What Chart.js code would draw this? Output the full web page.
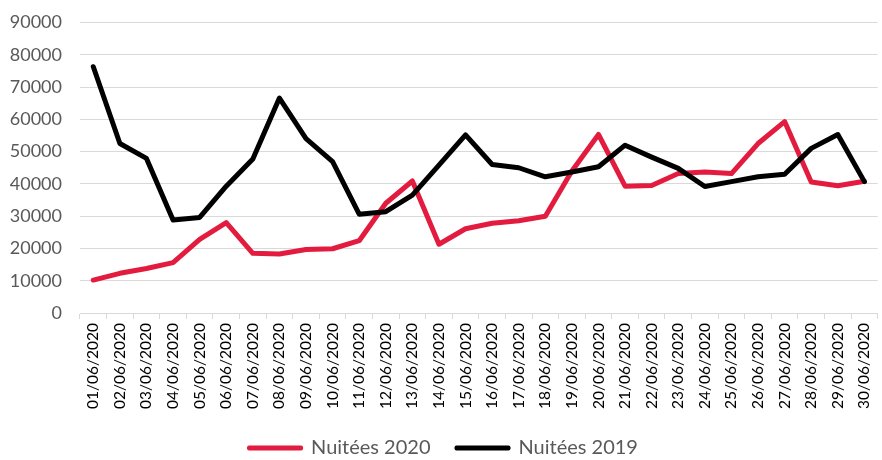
<!DOCTYPE html>
<html>
<head>
<meta charset="utf-8">
<script src="https://cdn.jsdelivr.net/npm/chart.js@4/dist/chart.umd.min.js"></script>
<style>
  html, body { margin: 0; padding: 0; background: #fff; overflow: hidden; }
  #wrap { width: 887px; height: 460px; overflow: hidden; }
</style>
</head>
<body>
<div id="wrap"><canvas id="c" width="887" height="468"></canvas></div>
<script>
const categories = [
  "01/06/2020","02/06/2020","03/06/2020","04/06/2020","05/06/2020","06/06/2020",
  "07/06/2020","08/06/2020","09/06/2020","10/06/2020","11/06/2020","12/06/2020",
  "13/06/2020","14/06/2020","15/06/2020","16/06/2020","17/06/2020","18/06/2020",
  "19/06/2020","20/06/2020","21/06/2020","22/06/2020","23/06/2020","24/06/2020",
  "25/06/2020","26/06/2020","27/06/2020","28/06/2020","29/06/2020","30/06/2020"
];
const nuitees2020 = [
  10200, 12300, 13800, 15600, 22800, 28000, 18500, 18300, 19700, 19900,
  22400, 34000, 40900, 21300, 26100, 27800, 28600, 30000, 44000, 55300,
  39300, 39500, 43200, 43700, 43200, 52500, 59300, 40600, 39400, 40800
];
const nuitees2019 = [
  76300, 52500, 47900, 28800, 29600, 39300, 47700, 66600, 54000, 46900,
  30600, 31400, 36500, 45800, 55200, 46000, 45000, 42200, 43700, 45300,
  52000, 48300, 44800, 39200, 40700, 42200, 43000, 51000, 55300, 40700
];
const yTicks = [0, 10000, 20000, 30000, 40000, 50000, 60000, 70000, 80000, 90000];

new Chart(document.getElementById('c'), {
  type: 'line',
  data: {
    labels: categories,
    datasets: [
      { label: 'Nuitées 2020', data: nuitees2020, borderColor: '#E31B3E', backgroundColor: '#E31B3E',
        borderWidth: 5, pointRadius: 0, tension: 0, borderJoinStyle: 'round', borderCapStyle: 'round', order: 1 },
      { label: 'Nuitées 2019', data: nuitees2019, borderColor: '#000000', backgroundColor: '#000000',
        borderWidth: 5, pointRadius: 0, tension: 0, borderJoinStyle: 'round', borderCapStyle: 'round', order: 0 }
    ]
  },
  options: {
    responsive: false,
    animation: false,
    layout: { padding: { top: 22.5, left: 0, right: 0, bottom: 0 } },
    plugins: {
      tooltip: { enabled: false },
      legend: {
        position: 'bottom',
        labels: {
          sort: (a, b) => a.datasetIndex - b.datasetIndex,
          generateLabels: (chart) => Chart.defaults.plugins.legend.labels.generateLabels(chart)
            .map(item => Object.assign(item, { lineWidth: 4, lineJoin: 'round', lineCap: 'round' })),
          boxWidth: 52, boxHeight: 1,
          color: '#595959',
          font: { family: 'Lato', size: 20 },
          padding: 26
        }
      }
    },
    scales: {
      x: {
        offset: true,
        afterFit: (scale) => { scale.height = 99; },
        grid: { drawOnChartArea: false, drawTicks: true, tickLength: 6, offset: true, color: '#d9d9d9' },
        border: { color: '#d9d9d9', width: 1 },
        ticks: { autoSkip: false, maxRotation: 90, minRotation: 90, padding: 4, color: '#000',
                 font: { family: 'Lato', size: 15.5 } }
      },
      y: {
        min: 0, max: 90000,
        afterBuildTicks: (scale) => { scale.ticks = yTicks.map(v => ({ value: v })); },
        afterFit: (scale) => { scale.width = 80; scale.paddingTop = 0; scale.paddingBottom = 0; },
        grid: { color: '#d9d9d9', lineWidth: 1, drawTicks: false },
        border: { display: false },
        ticks: { padding: 18, color: '#595959', font: { family: 'Lato', size: 18 },
                 callback: (v) => String(v) }
      }
    }
  }
});
</script>
</body>
</html>
